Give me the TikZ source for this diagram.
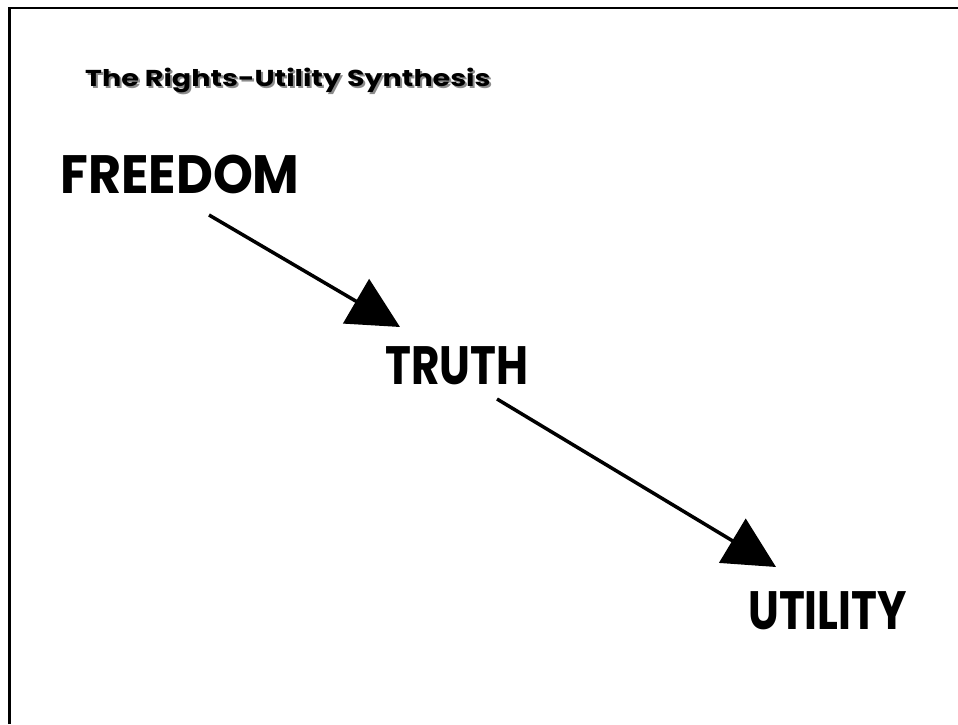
\documentclass[tikz,border=0pt]{standalone}
\usepackage{fontspec}
\newfontfamily\gothic{Poppins}
\usetikzlibrary{arrows.meta}
\tikzset{arrow/.style={-{Triangle[length=51pt,width=51pt]}, line width=3.5pt}}
\tikzset{word/.style={font=\gothic\bfseries\fontsize{54}{60}\selectfont, inner sep=0pt}}
\tikzset{squeeze/.style={xscale=#1, transform shape}}
\tikzset{heading/.style={font=\gothic\bfseries\fontsize{23}{26}\selectfont, inner sep=0pt, anchor=base west, squeeze=1.24}}

\begin{document}
\begin{tikzpicture}[x=1pt, y=1pt]
      \useasboundingbox (0, 0) rectangle (958, 724);
      \draw[line width=2.5pt] (9.5, 0) -- (9.5, 716) -- (958, 716);

      \node[heading, text=black!45] (titleshadow) at (87, 635) {The Rights-Utility Synthesis};
      \node[heading] (title) at (85, 637) {The Rights-Utility Synthesis};

      \node[word, squeeze=0.94] (F) at (180, 550) {FREEDOM};
      \node[word, squeeze=0.81] (T) at (457, 358) {TRUTH};
      \node[word, squeeze=0.81] (U) at (827.5, 113.5) {UTILITY};

      \draw[arrow] ([shift={(29, -41)}]F.center) -- ([shift={(-57, 39)}]T.center);
      \draw[arrow] ([shift={(40, -33)}]T.center) -- ([shift={(-51.5, 43.5)}]U.center);
    \end{tikzpicture}
\end{document}
